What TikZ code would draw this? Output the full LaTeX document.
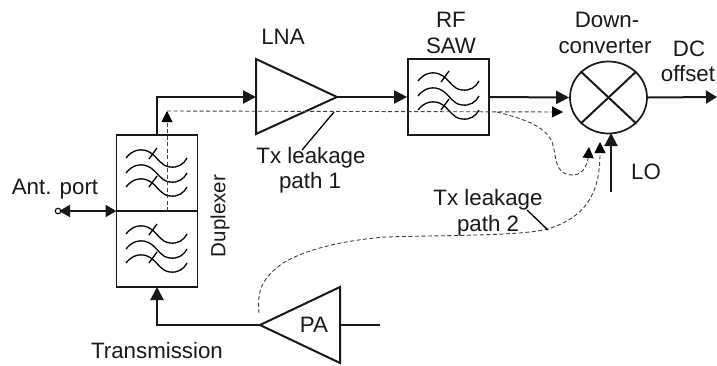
\documentclass[tikz,border=0pt]{standalone}
\usepackage{fontspec}
\setmainfont{Liberation Sans}
\usetikzlibrary{arrows.meta,shapes.geometric}
\tikzset{
  x=1pt,y=-1pt,
  solidline/.style={draw=black!90,line width=2pt},
  sig/.style={solidline,-{Triangle[length=13pt,width=13pt]}},
  leak/.style={draw=black!75,line width=0.9pt,dash pattern=on 4pt off 2.5pt},
  leakarrow/.style={leak,-{Triangle[length=11pt,width=11pt,color=black,fill=black]}},
  thinline/.style={draw=black,line width=1.3pt},
  boxnode/.style={solidline,rectangle,minimum width=81pt,minimum height=76pt,inner sep=0pt,line width=1.7pt},
  lbl/.style={inner sep=0pt,font=\fontsize{22.3}{24}\selectfont,text=black!90},
  wave/.pic={
    \foreach \o in {0,15,29}{
      \draw[thinline,shift={(0,\o)}] (0,0) .. controls (6,-8) and (16,-11) .. (25,-5)
        .. controls (33,1) and (35,8) .. (44,9) .. controls (52,10) and (58,6) .. (61,0);
    }
    \draw[thinline] (23,1) -- (31,-10);
    \draw[thinline] (23,29) -- (31,18);
  }
}
\begin{document}
\begin{tikzpicture}
\useasboundingbox (0,0) rectangle (717,365);
% boxes
\node[boxnode] (dupT) at (157,173) {};
\node[boxnode] (dupB) at (157,249) {};
\node[boxnode] (saw) at (448.5,97) {};
\pic at (126,158) {wave};
\pic at (126,234) {wave};
\pic at (418,81) {wave};
% mixer
\node[draw=black!90,line width=1.7pt,ellipse,minimum width=77pt,minimum height=72pt,inner sep=0pt] (mix) at (608.5,97.5) {};
\draw[solidline] (mix.north west) -- (mix.south east);
\draw[solidline] (mix.north east) -- (mix.south west);
% triangles
\coordinate (lnaA) at (256,59); \coordinate (lnaB) at (256,134); \coordinate (lnaO) at (337,97);
\coordinate (lnaI) at (256,97);
\draw[solidline] (lnaA) -- (lnaO) -- (lnaB) -- cycle;
\coordinate (paA) at (340,287); \coordinate (paB) at (340,363); \coordinate (paO) at (260,325);
\coordinate (paI) at (340,325);
\draw[solidline] (paA) -- (paO) -- (paB) -- cycle;
% terminals
\coordinate (ant) at (58,211);
\coordinate (dupW) at (116.5,211);
\coordinate (dupTop) at (157,135);
\coordinate (dupBot) at (157,287);
\coordinate (out) at (717,97);
\coordinate (paIn) at (380,325);
\coordinate (lo) at (611,192);
\coordinate (loT) at (611,133);
% solid connectors
\draw[sig] (dupTop) |- (lnaI);
\draw[sig] (lnaO) -- (saw.west |- lnaO);
\draw[sig] (saw.east |- lnaO) -- (mix.west);
\draw[solidline,-{Triangle[length=11pt,width=13pt]}] (mix.east) -- (out);
\draw[sig] (lo) -- (loT);
\draw[solidline] (paI) -- (paIn);
\draw[sig] (paO) -| (dupBot);
\draw[line width=1.8pt,draw=black!90,{Triangle[length=11pt,width=12pt]}-{Triangle[length=11pt,width=12pt]}] (59,211) -- (dupW);
\node[draw=black,line width=1.1pt,circle,minimum size=5.5pt,inner sep=0pt,fill=white] (antc) at (ant) {};
% dashed
\coordinate (d0) at (167,211);
\coordinate (d1) at (167,111);
\coordinate (d2) at (563,112);
\coordinate (d3) at (497,112);
\draw[leakarrow] (d0) -- (d1);
\draw[leakarrow] (d1) -- (d2);
\draw[leakarrow] (d3) .. controls (520,118) and (545,125) .. (552,142)
  .. controls (557,155) and (553,175) .. (573,175)
  .. controls (585,175) and (588,160) .. (589,147);
\coordinate (p0) at (259,313);
\coordinate (p1) at (600,142);
\draw[leakarrow] (p0) .. controls (257,290) and (262,278) .. (283,263)
  .. controls (310,247) and (350,240) .. (385,237)
  .. controls (450,235) and (520,236) .. (548,229)
  .. controls (585,217) and (600,195) .. (p1);
% labels and leaders
\node[lbl] at (283,37) {LNA};
\node[lbl] at (451,20) {RF};
\node[lbl] at (451,46) {SAW};
\node[lbl] at (607,20) {Down-};
\node[lbl] at (605,46) {converter};
\node[lbl] at (689,49) {DC};
\node[lbl] at (688,74) {offset};
\node[lbl] at (646,172) {LO};
\node[lbl] (tx1) at (311,158) {Tx leakage};
\node[lbl] at (310,183) {path 1};
\node[lbl] (tx2) at (488,200) {Tx leakage};
\node[lbl] at (488,226) {path 2};
\node[lbl] at (55,189) {Ant. port};
\node[lbl,rotate=90,font=\fontsize{20.5}{24}\selectfont] at (220,216) {Duplexer};
\node[lbl] at (314,325) {PA};
\node[lbl] at (157,351) {Transmission};
\coordinate (l1a) at (334,112); \coordinate (l1b) at (302,150);
\coordinate (l2a) at (527,210); \coordinate (l2b) at (548,230);
\draw[thinline] (l1a) -- (l1b);
\draw[thinline] (l2a) -- (l2b);
\end{tikzpicture}
\end{document}
